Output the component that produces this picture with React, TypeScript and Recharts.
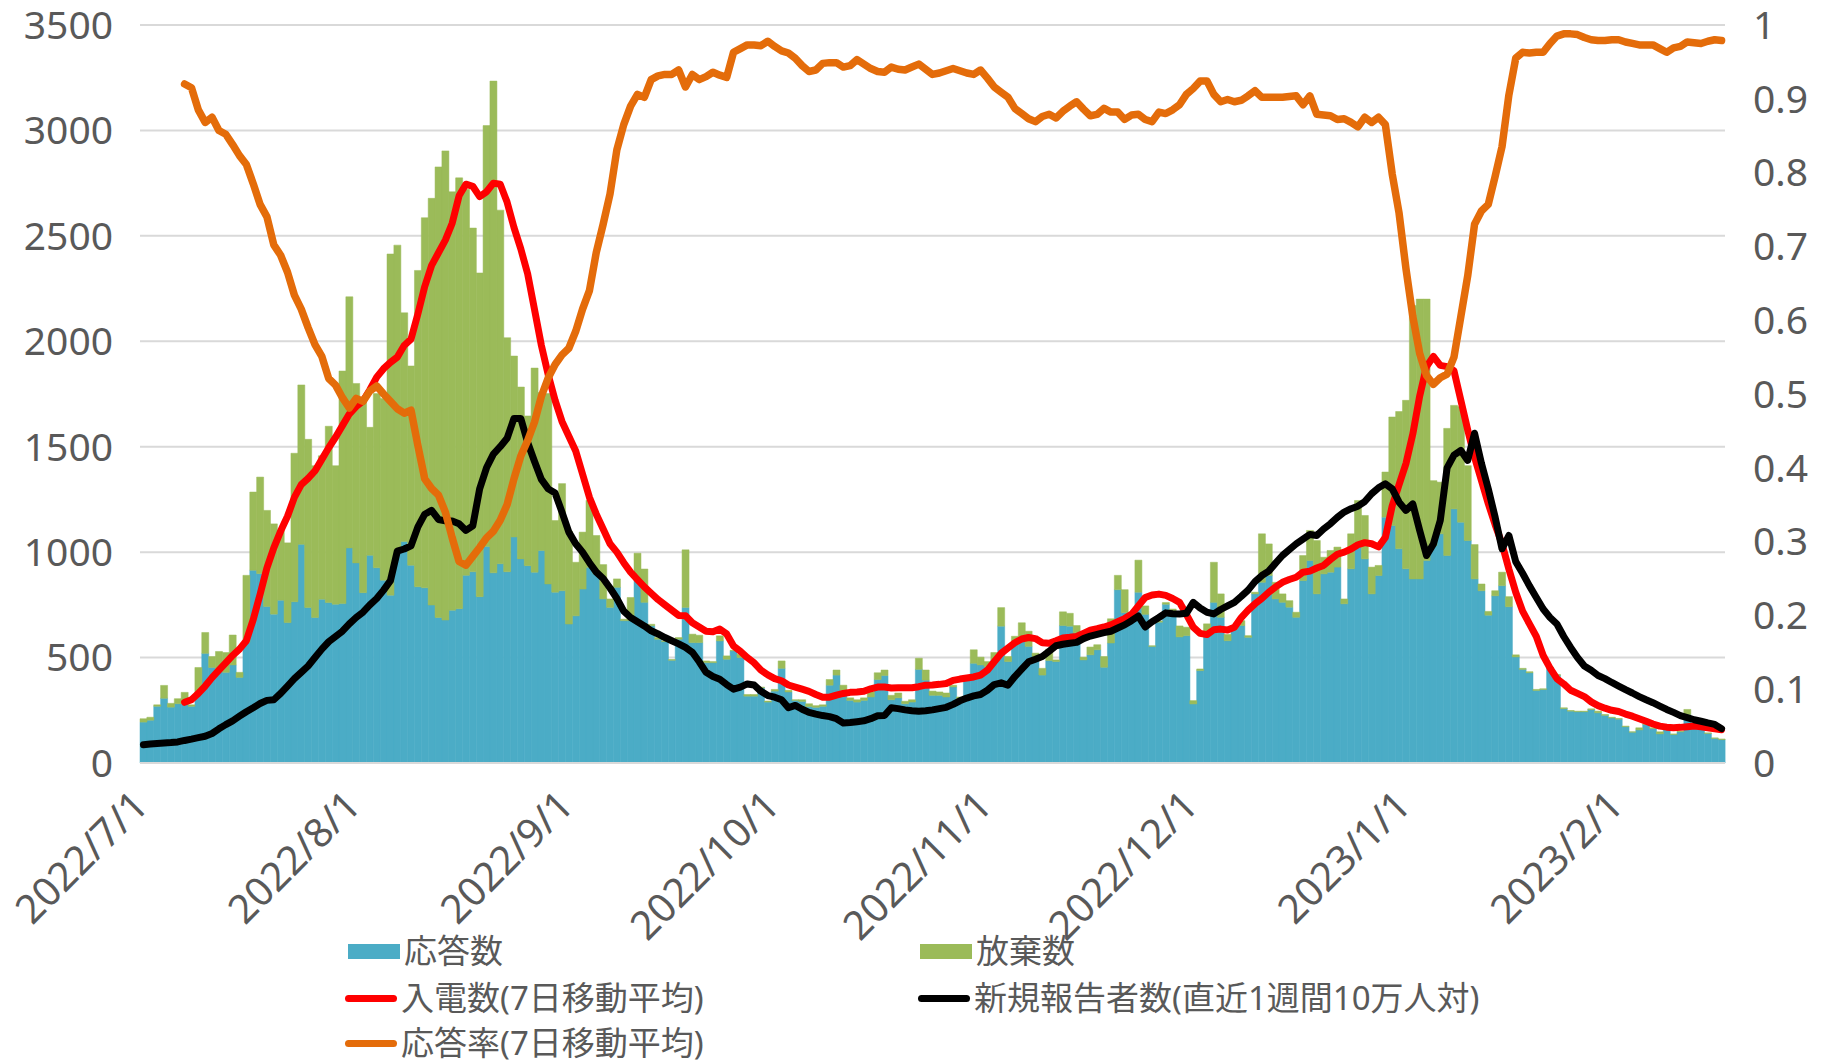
import React from "react";
import {
  ComposedChart, Bar, Line, XAxis, YAxis, CartesianGrid,
} from "recharts";

// daily series, 2022/7/1 .. 2023/2/16 (231 days)
const START = new Date(2022, 6, 1);
const DAY_COUNT = 231;

const DATES: string[] = [];
for (let i = 0; i < DAY_COUNT; i++) {
  const d = new Date(START.getFullYear(), START.getMonth(), START.getDate() + i);
  DATES.push(`${d.getFullYear()}/${d.getMonth() + 1}/${d.getDate()}`);
}

const MONTH_TICKS = [
  "2022/7/1", "2022/8/1", "2022/9/1", "2022/10/1",
  "2022/11/1", "2022/12/1", "2023/1/1", "2023/2/1",
];

const LEFT_TICKS = [0, 500, 1000, 1500, 2000, 2500, 3000, 3500];
const RIGHT_TICKS = [0, 0.1, 0.2, 0.3, 0.4, 0.5, 0.6, 0.7, 0.8, 0.9, 1];

// 応答数
const ANSWERED = [
  194, 203, 269, 307, 265, 281, 281, 269, 335, 520,
  453, 442, 430, 465, 406, 572, 914, 898, 742, 706,
  772, 666, 765, 1037, 737, 690, 777, 761, 753, 756,
  1020, 949, 808, 985, 926, 867, 796, 1009, 1051, 938,
  836, 831, 749, 690, 678, 725, 732, 890, 907, 789,
  1027, 902, 945, 907, 1072, 968, 936, 905, 1008, 849,
  810, 817, 659, 698, 825, 928, 897, 778, 738, 833,
  675, 675, 873, 762, 651, 587, 576, 487, 587, 738,
  571, 571, 476, 476, 579, 492, 532, 500, 317, 317,
  357, 289, 341, 449, 337, 297, 292, 268, 264, 269,
  369, 417, 345, 297, 289, 297, 313, 396, 415, 300,
  309, 281, 289, 444, 393, 321, 321, 313, 361, 305,
  401, 473, 465, 457, 489, 649, 481, 561, 593, 553,
  505, 417, 486, 481, 652, 649, 617, 489, 513, 537,
  454, 569, 822, 713, 681, 810, 705, 553, 668, 753,
  700, 598, 604, 280, 438, 612, 762, 691, 580, 636,
  652, 596, 802, 857, 889, 778, 762, 739, 691, 865,
  960, 802, 897, 905, 929, 755, 921, 1024, 968, 802,
  889, 1166, 1126, 1016, 921, 873, 873, 960, 1031, 1087,
  984, 1205, 1142, 1055, 873, 817, 701, 793, 841, 741,
  503, 444, 428, 344, 349, 452, 415, 258, 246, 243,
  243, 253, 238, 226, 214, 208, 172, 146, 157, 183,
  164, 138, 164, 135, 148, 230, 167, 164, 140, 117,
  111,
];

// 放棄数
const ABANDONED = [
  16, 14, 7, 61, 18, 24, 54, 7, 118, 99,
  52, 87, 94, 142, 24, 318, 371, 458, 456, 428,
  331, 378, 704, 756, 798, 720, 680, 836, 657, 1103,
  1191, 851, 921, 607, 826, 862, 1618, 1447, 1084, 945,
  1500, 1755, 1929, 2137, 2225, 1984, 2043, 1831, 1630, 1535,
  1996, 2332, 1677, 1110, 858, 815, 710, 968, 749, 903,
  340, 508, 441, 254, 270, 318, 182, 163, 40, 40,
  7, 110, 122, 158, 7, 8, 3, 4, 8, 273,
  40, 35, 8, 5, 24, 16, 3, 16, 8, 8,
  3, 5, 8, 35, 8, 3, 8, 13, 8, 7,
  27, 24, 24, 12, 11, 12, 24, 32, 26, 21,
  23, 12, 11, 53, 48, 20, 16, 19, 8, 8,
  8, 64, 37, 24, 35, 88, 24, 40, 72, 72,
  16, 32, 54, 8, 65, 61, 35, 13, 37, 24,
  51, 115, 68, 109, 29, 152, 40, 3, 5, 8,
  30, 52, 40, 16, 8, 48, 190, 111, 30, 8,
  23, 8, 8, 230, 150, 79, 40, 31, 24, 119,
  143, 253, 79, 103, 95, 23, 166, 221, 206, 127,
  48, 214, 515, 651, 799, 1297, 1327, 1240, 308, 245,
  603, 491, 548, 355, 163, 32, 18, 24, 64, 48,
  10, 5, 5, 5, 3, 3, 5, 4, 3, 3,
  3, 4, 8, 4, 3, 3, 3, 2, 10, 3,
  3, 10, 3, 3, 3, 24, 3, 3, 3, 2,
  3,
];

// 入電数(7日移動平均)
const CALLS_MA7 = [
  null, null, null, null, null, null, 288, 300, 330, 365,
  405, 440, 475, 510, 540, 580, 680, 800, 925, 1020,
  1100, 1170, 1260, 1320, 1350, 1385, 1440, 1495, 1545, 1600,
  1655, 1690, 1717, 1770, 1830, 1870, 1900, 1925, 1980, 2010,
  2130, 2260, 2360, 2420, 2480, 2560, 2690, 2745, 2735, 2686,
  2709, 2750, 2745, 2660, 2540, 2438, 2320, 2150, 1980, 1840,
  1720, 1620, 1550, 1480, 1370, 1260, 1180, 1110, 1040, 1000,
  950, 905, 870, 835, 805, 775, 750, 725, 700, 698,
  665, 645, 625, 622, 635, 612, 555, 530, 500, 475,
  440, 418, 400, 390, 370, 360, 350, 340, 325, 312,
  312, 322, 330, 335, 337, 340, 352, 360, 360, 356,
  357, 357, 357, 362, 369, 370, 373, 377, 392, 398,
  403, 408, 417, 440, 480, 520, 545, 570, 588, 595,
  590, 570, 568, 580, 593, 596, 600, 615, 630, 637,
  645, 655, 670, 685, 705, 745, 785, 797, 801, 795,
  780, 762, 705, 644, 615, 609, 632, 635, 631, 644,
  690, 725, 755, 780, 810, 835, 857, 870, 881, 905,
  910, 925, 937, 965, 990, 1000, 1015, 1035, 1045, 1040,
  1025, 1070, 1220, 1320, 1420, 1560, 1740, 1880, 1928, 1886,
  1880, 1860, 1720, 1580, 1450, 1340, 1230, 1130, 1040, 920,
  810, 720, 660, 600, 510, 450, 400, 375, 345, 330,
  315, 290, 272, 260, 250, 244, 232, 222, 210, 198,
  185, 175, 170, 167, 169, 172, 175, 172, 167, 162,
  158,
];

// 新規報告者数(直近1週間10万人対)
const NEW_CASES = [
  87, 90, 93, 95, 97, 100, 107, 113, 120, 127,
  140, 162, 182, 200, 222, 243, 262, 282, 297, 300,
  330, 365, 400, 430, 460, 500, 540, 575, 600, 625,
  660, 690, 715, 750, 780, 820, 865, 1005, 1015, 1030,
  1120, 1180, 1198, 1155, 1148, 1148, 1135, 1103, 1125, 1300,
  1400, 1465, 1500, 1540, 1634, 1634, 1520, 1430, 1345, 1300,
  1280, 1190, 1095, 1040, 1000, 950, 905, 875, 830, 780,
  720, 690, 670, 650, 627, 612, 595, 580, 565, 548,
  525, 480, 430, 410, 397, 372, 350, 360, 375, 370,
  340, 320, 312, 300, 262, 273, 255, 240, 232, 225,
  220, 210, 190, 192, 196, 200, 210, 224, 225, 262,
  258, 252, 248, 245, 248, 252, 258, 264, 278, 295,
  308, 318, 325, 345, 372, 380, 369, 410, 445, 480,
  492, 505, 530, 556, 563, 568, 572, 590, 602, 610,
  618, 625, 640, 655, 675, 697, 645, 670, 690, 712,
  708, 707, 710, 762, 735, 715, 707, 728, 745, 762,
  790, 820, 860, 889, 910, 948, 984, 1012, 1039, 1062,
  1084, 1079, 1110, 1135, 1165, 1190, 1206, 1218, 1240, 1277,
  1305, 1324, 1300, 1237, 1198, 1229, 1103, 984, 1039, 1150,
  1400, 1460, 1482, 1435, 1564, 1422, 1300, 1166, 1016, 1079,
  955, 900, 840, 785, 730, 690, 659, 600, 548, 500,
  460, 440, 415, 400, 382, 365, 348, 332, 315, 300,
  286, 270, 254, 240, 225, 215, 205, 198, 190, 183,
  163,
];

// 応答率(7日移動平均)
const ANSWER_RATE_MA7 = [
  null, null, null, null, null, null, 0.920, 0.915, 0.885, 0.868,
  0.875, 0.857, 0.852, 0.838, 0.823, 0.811, 0.785, 0.757, 0.740, 0.702,
  0.688, 0.665, 0.634, 0.615, 0.590, 0.567, 0.551, 0.521, 0.512, 0.495,
  0.481, 0.494, 0.490, 0.504, 0.511, 0.500, 0.490, 0.480, 0.474, 0.478,
  0.430, 0.385, 0.372, 0.363, 0.340, 0.305, 0.273, 0.268, 0.280, 0.292,
  0.305, 0.314, 0.329, 0.350, 0.385, 0.416, 0.437, 0.462, 0.497, 0.522,
  0.540, 0.553, 0.562, 0.585, 0.615, 0.640, 0.692, 0.730, 0.771, 0.831,
  0.865, 0.890, 0.906, 0.902, 0.926, 0.931, 0.933, 0.933, 0.939, 0.916,
  0.933, 0.926, 0.930, 0.936, 0.932, 0.929, 0.963, 0.968, 0.973, 0.973,
  0.972, 0.978, 0.971, 0.965, 0.962, 0.955, 0.945, 0.937, 0.939, 0.948,
  0.949, 0.949, 0.943, 0.945, 0.953, 0.947, 0.941, 0.937, 0.936, 0.943,
  0.940, 0.939, 0.943, 0.947, 0.940, 0.933, 0.935, 0.938, 0.941, 0.938,
  0.935, 0.933, 0.939, 0.928, 0.916, 0.909, 0.902, 0.887, 0.880, 0.873,
  0.869, 0.876, 0.879, 0.874, 0.883, 0.890, 0.896, 0.886, 0.877, 0.879,
  0.887, 0.882, 0.882, 0.872, 0.878, 0.879, 0.872, 0.869, 0.882, 0.880,
  0.885, 0.892, 0.906, 0.914, 0.924, 0.924, 0.906, 0.896, 0.899, 0.896,
  0.898, 0.904, 0.911, 0.902, 0.902, 0.902, 0.902, 0.903, 0.904, 0.892,
  0.904, 0.879, 0.878, 0.877, 0.872, 0.873, 0.868, 0.862, 0.875, 0.868,
  0.875, 0.865, 0.798, 0.745, 0.670, 0.605, 0.555, 0.525, 0.513, 0.522,
  0.527, 0.550, 0.605, 0.660, 0.730, 0.748, 0.757, 0.795, 0.835, 0.905,
  0.955, 0.963, 0.962, 0.963, 0.963, 0.975, 0.985, 0.988, 0.988, 0.987,
  0.983, 0.980, 0.979, 0.979, 0.980, 0.980, 0.977, 0.975, 0.973, 0.973,
  0.973, 0.968, 0.963, 0.969, 0.971, 0.977, 0.976, 0.975, 0.978, 0.980,
  0.979,
];

const NAMES = {
  answered: "応答数",
  abandoned: "放棄数",
  calls: "入電数(7日移動平均)",
  cases: "新規報告者数(直近1週間10万人対)",
  rate: "応答率(7日移動平均)",
};

const COLORS = {
  answered: "#4BACC6",
  abandoned: "#9BBB59",
  calls: "#FF0000",
  cases: "#000000",
  rate: "#E46C0A",
};

const FONT = '"Noto Sans", "Noto Sans CJK JP", sans-serif';
const TEXT = "#595959";

const data = DATES.map((date, i) => ({
  date,
  answered: ANSWERED[i],
  abandoned: ABANDONED[i],
  calls: CALLS_MA7[i],
  cases: NEW_CASES[i],
  rate: ANSWER_RATE_MA7[i],
}));

function DateTick(props: any) {
  const { x, y, payload } = props;
  if (!MONTH_TICKS.includes(payload.value)) return <g />;
  const ax = x - 3;
  const ay = y + 33;
  return (
    <text
      x={ax}
      y={ay}
      dy="0.35em"
      transform={`rotate(-45 ${ax} ${ay})`}
      textAnchor="end"
      fill={TEXT}
      fontSize={40}
      fontFamily={FONT}
    >
      {payload.value}
    </text>
  );
}

function LegendItem({ kind, color, label, left, top }: any) {
  return (
    <div style={{ position: "absolute", left, top, display: "flex", alignItems: "center", height: 38 }}>
      {kind === "bar" ? (
        <div style={{ width: 52, height: 15, background: color }} />
      ) : (
        <div style={{ width: 52, height: 7, background: color, borderRadius: 4 }} />
      )}
      <span style={{ marginLeft: 4, fontSize: 33, lineHeight: "38px", color: TEXT, fontFamily: FONT, whiteSpace: "nowrap" }}>
        {label}
      </span>
    </div>
  );
}

export default function App() {
  return (
    <div style={{ position: "absolute", left: 0, top: 0, width: 1827, height: 1063, background: "#fff", overflow: "hidden" }}>
      <ComposedChart
        width={1827}
        height={1063}
        data={data}
        margin={{ top: 25, right: 22, left: 40, bottom: 0 }}
        barCategoryGap={0}
        barGap={0}
      >
        <CartesianGrid yAxisId="left" vertical={false} stroke="#D9D9D9" strokeWidth={2} />
        <XAxis
          dataKey="date"
          interval={0}
          height={300}
          tick={<DateTick />}
          tickLine={false}
          tickSize={0}
          axisLine={{ stroke: "#D9D9D9", strokeWidth: 2 }}
        />
        <YAxis
          yAxisId="left"
          domain={[0, 3500]}
          ticks={LEFT_TICKS}
          width={100}
          axisLine={false}
          tickLine={false}
          tickSize={0}
          tickMargin={27}
          tick={{ fontSize: 39, fill: TEXT, fontFamily: FONT }}
        />
        <YAxis
          yAxisId="right"
          orientation="right"
          domain={[0, 1]}
          ticks={RIGHT_TICKS}
          width={80}
          axisLine={false}
          tickLine={false}
          tickSize={0}
          tickMargin={28}
          tickFormatter={(v: number) => String(Math.round(v * 10) / 10)}
          tick={{ fontSize: 39, fill: TEXT, fontFamily: FONT, textAnchor: "start" }}
        />
        <Bar yAxisId="left" dataKey="answered" name={NAMES.answered} stackId="calls" fill={COLORS.answered} stroke={COLORS.answered} strokeWidth={0.5} isAnimationActive={false} />
        <Bar yAxisId="left" dataKey="abandoned" name={NAMES.abandoned} stackId="calls" fill={COLORS.abandoned} stroke={COLORS.abandoned} strokeWidth={0.5} isAnimationActive={false} />
        <Line yAxisId="left" type="linear" dataKey="calls" name={NAMES.calls} stroke={COLORS.calls} strokeWidth={7} dot={false} strokeLinecap="round" strokeLinejoin="round" isAnimationActive={false} />
        <Line yAxisId="left" type="linear" dataKey="cases" name={NAMES.cases} stroke={COLORS.cases} strokeWidth={7} dot={false} strokeLinecap="round" strokeLinejoin="round" isAnimationActive={false} />
        <Line yAxisId="right" type="linear" dataKey="rate" name={NAMES.rate} stroke={COLORS.rate} strokeWidth={7.5} dot={false} strokeLinecap="round" strokeLinejoin="round" isAnimationActive={false} />
      </ComposedChart>

      <LegendItem kind="bar" color={COLORS.answered} label={NAMES.answered} left={348} top={932} />
      <LegendItem kind="bar" color={COLORS.abandoned} label={NAMES.abandoned} left={920} top={932} />
      <LegendItem kind="line" color={COLORS.calls} label={NAMES.calls} left={345} top={979} />
      <LegendItem kind="line" color={COLORS.cases} label={NAMES.cases} left={918} top={979} />
      <LegendItem kind="line" color={COLORS.rate} label={NAMES.rate} left={345} top={1024} />
    </div>
  );
}
